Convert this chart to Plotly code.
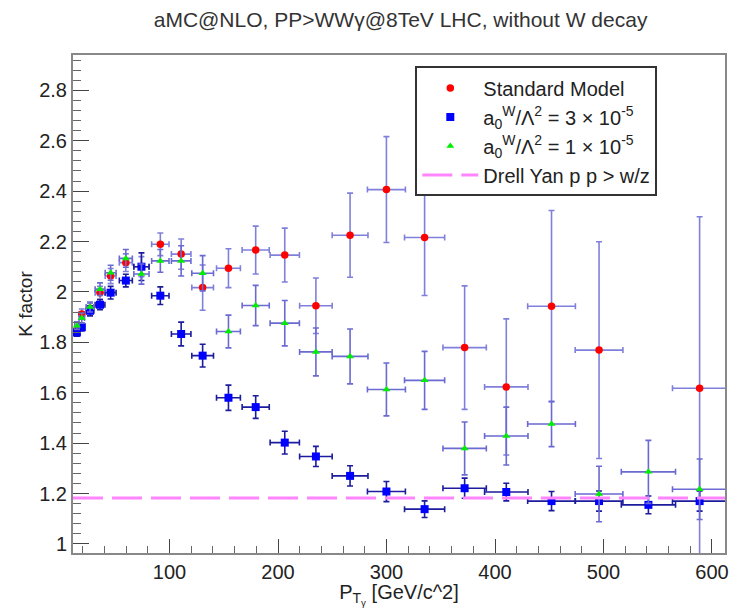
import plotly.graph_objects as go

# ---- data ----
pt_centers = [14.6, 19.1, 26.7, 35.9, 45.7, 59.7, 74.1, 91.5, 110.7, 130.5, 154.3, 179.4,
              206.2, 234.9, 266.4, 299.9, 335.1, 372.0, 410.4, 452.1, 495.9, 541.4, 588.6]
pt_halfwidth = [2, 2.5, 3.5, 4.5, 5, 6, 7, 8, 9, 10, 11, 12.5,
                13.5, 15, 16.5, 17.5, 18.5, 20, 20, 22, 22, 25, 25]

sm_k = [1.85, 1.912, 1.935, 1.997, 2.063, 2.116, 2.10, 2.189, 2.15, 2.017, 2.094, 2.166,
        2.146, 1.945, 2.225, 2.406, 2.216, 1.779, 1.623, 1.943, 1.769, None, 1.618]
sm_err = [0.015, 0.02, 0.02, 0.025, 0.03, 0.035, 0.04, 0.045, 0.06, 0.09, 0.077, 0.095,
          0.107, 0.11, 0.167, 0.21, 0.23, 0.245, 0.27, 0.38, 0.43, 0, 0.68]

a3_k = [1.839, 1.860, 1.925, 1.949, 1.997, 2.045, 2.100, 1.985, 1.833, 1.747, 1.580, 1.543,
        1.402, 1.347, 1.270, 1.208, 1.138, 1.221, 1.206, 1.170, 1.170, 1.155, 1.170]
a3_err = [0.015, 0.015, 0.02, 0.02, 0.025, 0.025, 0.055, 0.035, 0.047, 0.045, 0.05, 0.045,
          0.045, 0.04, 0.04, 0.04, 0.033, 0.04, 0.035, 0.038, 0.04, 0.035, 0.04]

a1_k = [1.866, 1.896, 1.94, 2.011, 2.076, 2.133, 2.071, 2.123, 2.123, 2.074, 1.843, 1.946,
        1.876, 1.762, 1.744, 1.613, 1.649, 1.379, 1.428, 1.476, 1.198, 1.286, 1.217]
a1_err = [0.015, 0.02, 0.02, 0.025, 0.03, 0.035, 0.04, 0.045, 0.06, 0.07, 0.065, 0.08,
          0.09, 0.095, 0.109, 0.105, 0.115, 0.105, 0.115, 0.09, 0.11, 0.125, 0.12]

dy_kfactor = 1.182

x_range = [11, 612]
y_range = [0.964, 2.94]

FONT = "Liberation Sans"

fig = go.Figure()

def add_series(y, err, name, symbol, size, color, barcolor):
    fig.add_trace(go.Scatter(
        x=pt_centers, y=y, mode="markers", name=name, legendgroup=name,
        marker=dict(symbol=symbol, size=size, color=color, line=dict(width=0)),
        error_x=dict(type="data", array=pt_halfwidth, color=barcolor, thickness=1.6, width=3),
        error_y=dict(type="data", array=err, color=barcolor, thickness=1.6, width=3),
    ))

add_series(sm_k, sm_err, "Standard Model", "circle", 7.5, "#ff0000", "#8080dc")
add_series(a3_k, a3_err, "a<sub>0</sub><sup>W</sup>/\u039b<sup>2</sup> = 3 \u00d7 10<sup>-5</sup>",
           "square", 8, "#0000ff", "#1c1c9c")
add_series(a1_k, a1_err, "a<sub>0</sub><sup>W</sup>/\u039b<sup>2</sup> = 1 \u00d7 10<sup>-5</sup>",
           "triangle-up", 7, "#00ee00", "#6a6ad2")

fig.add_trace(go.Scatter(
    x=x_range, y=[dy_kfactor, dy_kfactor], mode="lines", name="Drell Yan p p > w/z",
    legendgroup="dy", line=dict(color="#ff85ff", width=3, dash="30px,9px"),
))

fig.update_layout(
    width=735, height=608,
    margin=dict(l=73, r=6, t=55, b=54),
    paper_bgcolor="white", plot_bgcolor="white",
    font=dict(family=FONT, size=20, color="#222"),
    title=dict(text="aMC@NLO, PP>WW\u03b3@8TeV LHC, without W decay",
               x=0.545, xanchor="center", y=0.968, yanchor="middle",
               font=dict(family=FONT, size=21, color="#333")),
    showlegend=True,
    legend=dict(x=0.525, y=0.977, xanchor="left", yanchor="top",
                bgcolor="white", bordercolor="#333", borderwidth=2,
                font=dict(family=FONT, size=20, color="#222"),
                traceorder="grouped", tracegroupgap=0, itemwidth=56),
)

fig.update_xaxes(
    range=x_range, showgrid=False, zeroline=False,
    showline=True, linecolor="#888", linewidth=2, mirror=True,
    ticks="inside", ticklen=14, tickwidth=1.3, tickcolor="#444",
    tick0=0, dtick=100,
    minor=dict(ticks="inside", ticklen=7, tickwidth=1, tickcolor="#666", dtick=20, tick0=0),
    tickfont=dict(family=FONT, size=20, color="#222"),
    title=dict(text="P<sub>T<sub>\u03b3</sub></sub> [GeV/c^2]", standoff=5,
               font=dict(family=FONT, size=20, color="#222")),
)
fig.update_yaxes(
    range=y_range, showgrid=False, zeroline=False,
    showline=True, linecolor="#888", linewidth=2, mirror=True,
    ticks="inside", ticklen=16, tickwidth=1.3, tickcolor="#444",
    tick0=1, dtick=0.2, tickformat="~g",
    minor=dict(ticks="inside", ticklen=8, tickwidth=1, tickcolor="#666", dtick=0.04, tick0=1),
    tickfont=dict(family=FONT, size=20, color="#222"),
    title=dict(text="K factor", standoff=2, font=dict(family=FONT, size=19, color="#222")),
)

fig.write_html("out.html")
